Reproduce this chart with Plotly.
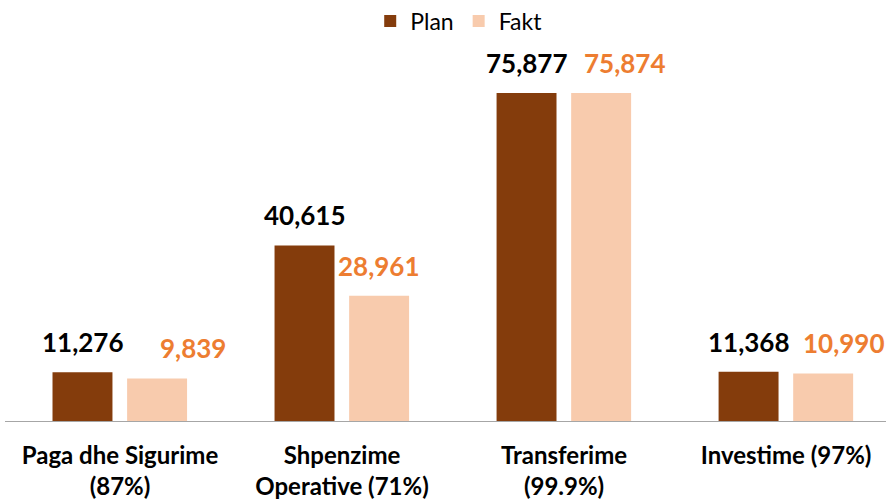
import plotly.graph_objects as go

# Budget execution by category: plan vs. actual (fakt)
categories = ["Paga dhe Sigurime", "Shpenzime Operative", "Transferime", "Investime"]
tick_labels = ["Paga dhe Sigurime<br>(87%)", "Shpenzime<br>Operative (71%)",
               "Transferime<br>(99.9%)", "Investime (97%)"]
plan_values = [11276, 40615, 75877, 11368]
fakt_values = [9839, 28961, 75874, 10990]

PLAN_COLOR = "#843C0C"
FAKT_COLOR = "#F8CBAD"
FAKT_LABEL_COLOR = "#ED7D31"
FONT = "Lato, Carlito, 'Open Sans', sans-serif"

# horizontal nudges (px) for the actual-value labels
fakt_label_shift = [36, -1, 23, 20]

BAR_W = 0.27
PLAN_OFF = -0.304
FAKT_OFF = 0.032
xpos = list(range(len(categories)))

fig = go.Figure()
fig.add_trace(go.Bar(
    name="Plan", x=xpos, y=plan_values,
    marker=dict(color=PLAN_COLOR, line=dict(width=0)),
    width=BAR_W, offset=PLAN_OFF,
))
fig.add_trace(go.Bar(
    name="Fakt", x=xpos, y=fakt_values,
    marker=dict(color=FAKT_COLOR, line=dict(width=0)),
    width=BAR_W, offset=FAKT_OFF,
))

annotations = []
for i in xpos:
    annotations.append(dict(
        x=i + PLAN_OFF + BAR_W / 2, y=plan_values[i], xref="x", yref="y",
        text=f"<b>{plan_values[i]:,}</b>", showarrow=False,
        yanchor="bottom", yshift=12,
        font=dict(family=FONT, size=26, color="#000000"),
    ))
    annotations.append(dict(
        x=i + FAKT_OFF + BAR_W / 2, y=fakt_values[i], xref="x", yref="y",
        text=f"<b>{fakt_values[i]:,}</b>", showarrow=False,
        yanchor="bottom", yshift=12, xshift=fakt_label_shift[i],
        font=dict(family=FONT, size=26, color=FAKT_LABEL_COLOR),
    ))

fig.update_layout(
    width=886, height=500,
    margin=dict(l=5, r=0, t=40, b=79, autoexpand=False),
    paper_bgcolor="white", plot_bgcolor="white",
    barmode="overlay",
    showlegend=True,
    legend=dict(orientation="h", x=0.515, xanchor="center",
                yref="container", y=1 - 21 / 500, yanchor="middle",
                font=dict(family=FONT, size=23, color="#000000"),
                itemwidth=30, traceorder="normal"),
    annotations=annotations,
    font=dict(family=FONT),
)
fig.update_xaxes(
    tickmode="array", tickvals=xpos,
    ticktext=[f"<b>{t}</b>" for t in tick_labels],
    tickfont=dict(family=FONT, size=24, color="#000000"),
    ticklabelstandoff=13,
    range=[-0.518, 3.45],
    showline=True, linecolor="#A6A6A6", linewidth=1,
    showgrid=False, zeroline=False, ticks="",
)
fig.update_yaxes(range=[0, 88136], visible=False, showgrid=False, zeroline=False)

fig.write_html("out.html")
